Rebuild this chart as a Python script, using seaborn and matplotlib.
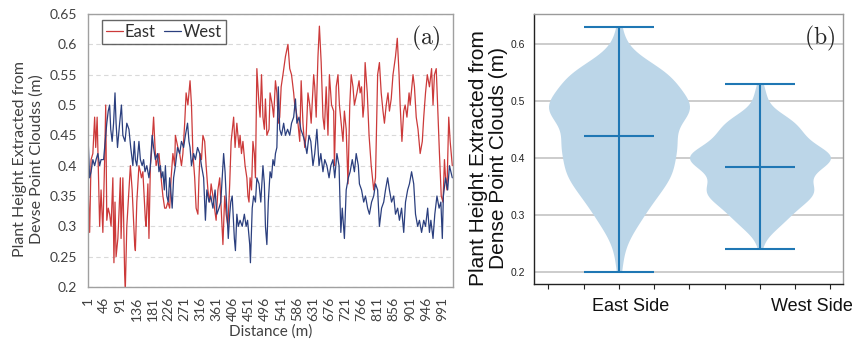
import numpy as np
import pandas as pd
import matplotlib
matplotlib.use("Agg")
import matplotlib.pyplot as plt
import seaborn as sns
from matplotlib import font_manager
from matplotlib.font_manager import FontProperties

# ---------------- data ----------------
east_distance = [1, 5, 9, 14, 19, 22, 26, 33, 37, 42,
                 47, 50, 53, 57, 61, 65, 70, 73, 76, 79,
                 84, 87, 91, 93, 98, 103, 105, 109, 115, 119,
                 124, 131, 133, 137, 143, 147, 150, 154, 161, 163,
                 168, 171, 175, 178, 184, 188, 191, 199, 205, 210,
                 215, 219, 224, 229, 233, 238, 243, 245, 252, 257,
                 262, 266, 271, 275, 280, 286, 290, 294, 299, 303,
                 308, 311, 314, 318, 322, 327, 331, 336, 341, 345,
                 350, 359, 364, 369, 373, 378, 383, 387, 392, 397,
                 401, 408, 412, 417, 423, 426, 430, 434, 440, 445,
                 448, 451, 454, 458, 462, 466, 469, 473, 479, 482,
                 486, 490, 494, 497, 501, 507, 510, 516, 520, 525,
                 529, 533, 537, 541, 546, 553, 560, 565, 570, 576,
                 579, 583, 588, 593, 597, 602, 607, 611, 616, 621,
                 625, 632, 635, 639, 644, 648, 653, 658, 662, 667,
                 672, 676, 682, 688, 690, 693, 695, 700, 704, 709,
                 714, 718, 723, 728, 730, 733, 737, 742, 746, 753,
                 759, 762, 766, 770, 773, 776, 782, 787, 793, 800,
                 805, 811, 816, 821, 826, 830, 835, 840, 844, 849,
                 854, 861, 866, 871, 874, 879, 884, 888, 893, 899,
                 902, 910, 914, 919, 924, 930, 936, 940, 945, 950,
                 956, 962, 966, 970, 975, 980, 984, 989, 994, 998,
                 1001, 1005, 1010, 1014, 1020]
east_height = [0.36, 0.29, 0.41, 0.42, 0.48, 0.43, 0.48, 0.30, 0.36, 0.29,
               0.41, 0.50, 0.31, 0.33, 0.32, 0.30, 0.38, 0.24, 0.34, 0.25,
               0.28, 0.32, 0.38, 0.28, 0.38, 0.22, 0.20, 0.30, 0.36, 0.40,
               0.36, 0.27, 0.26, 0.34, 0.40, 0.39, 0.38, 0.39, 0.31, 0.30,
               0.37, 0.28, 0.40, 0.42, 0.48, 0.43, 0.40, 0.42, 0.38, 0.35,
               0.33, 0.33, 0.34, 0.33, 0.38, 0.42, 0.40, 0.45, 0.43, 0.42,
               0.40, 0.42, 0.47, 0.52, 0.50, 0.54, 0.50, 0.42, 0.38, 0.33,
               0.32, 0.38, 0.42, 0.41, 0.45, 0.44, 0.40, 0.36, 0.34, 0.37,
               0.35, 0.31, 0.36, 0.38, 0.33, 0.27, 0.35, 0.32, 0.30, 0.37,
               0.44, 0.48, 0.43, 0.47, 0.43, 0.45, 0.42, 0.44, 0.40, 0.38,
               0.35, 0.34, 0.38, 0.36, 0.44, 0.42, 0.38, 0.56, 0.50, 0.48,
               0.55, 0.48, 0.46, 0.51, 0.45, 0.46, 0.52, 0.50, 0.48, 0.54,
               0.52, 0.47, 0.48, 0.53, 0.55, 0.58, 0.60, 0.56, 0.55, 0.52,
               0.50, 0.49, 0.47, 0.44, 0.54, 0.47, 0.43, 0.45, 0.52, 0.50,
               0.47, 0.55, 0.53, 0.48, 0.58, 0.63, 0.57, 0.48, 0.46, 0.53,
               0.45, 0.55, 0.50, 0.49, 0.40, 0.47, 0.53, 0.55, 0.50, 0.47,
               0.44, 0.49, 0.46, 0.37, 0.42, 0.50, 0.55, 0.53, 0.50, 0.52,
               0.54, 0.52, 0.53, 0.48, 0.50, 0.57, 0.52, 0.45, 0.40, 0.36,
               0.38, 0.55, 0.57, 0.52, 0.49, 0.47, 0.50, 0.52, 0.49, 0.51,
               0.55, 0.58, 0.61, 0.55, 0.50, 0.44, 0.49, 0.50, 0.48, 0.52,
               0.50, 0.55, 0.53, 0.48, 0.46, 0.42, 0.44, 0.48, 0.52, 0.55,
               0.53, 0.56, 0.50, 0.55, 0.56, 0.48, 0.42, 0.35, 0.34, 0.41,
               0.38, 0.36, 0.48, 0.44, 0.40]

west_distance = [1, 5, 9, 14, 19, 23, 28, 33, 37, 44,
                 50, 53, 57, 61, 64, 68, 72, 76, 79, 83,
                 89, 94, 98, 104, 109, 115, 120, 126, 130, 133,
                 137, 143, 147, 152, 156, 160, 165, 171, 175, 180,
                 184, 189, 195, 199, 203, 206, 210, 214, 217, 221,
                 225, 229, 232, 236, 240, 245, 251, 257, 262, 268,
                 273, 279, 283, 286, 290, 296, 301, 307, 313, 318,
                 324, 329, 333, 339, 344, 350, 356, 361, 367, 372,
                 376, 380, 384, 387, 393, 397, 400, 404, 410, 413,
                 417, 421, 426, 432, 438, 443, 447, 453, 455, 460,
                 464, 469, 473, 479, 484, 490, 494, 497, 501, 505,
                 510, 514, 518, 522, 525, 529, 533, 537, 542, 548,
                 553, 559, 565, 570, 576, 581, 585, 591, 596, 602,
                 607, 613, 619, 624, 630, 635, 641, 647, 652, 658,
                 663, 669, 675, 680, 686, 691, 697, 703, 708, 712,
                 718, 723, 729, 734, 740, 746, 751, 757, 760, 766,
                 772, 777, 783, 788, 794, 800, 805, 811, 816, 822,
                 828, 833, 839, 844, 850, 856, 861, 867, 872, 878,
                 884, 889, 895, 900, 906, 912, 917, 923, 928, 934,
                 940, 945, 951, 956, 960, 966, 971, 977, 983, 988,
                 992, 995, 1001, 1007, 1012, 1020]
west_height = [0.44, 0.38, 0.39, 0.41, 0.40, 0.41, 0.42, 0.40, 0.41, 0.41,
               0.45, 0.47, 0.49, 0.50, 0.46, 0.44, 0.47, 0.52, 0.47, 0.43,
               0.47, 0.50, 0.45, 0.44, 0.47, 0.46, 0.43, 0.40, 0.44, 0.41,
               0.40, 0.44, 0.41, 0.40, 0.41, 0.39, 0.40, 0.38, 0.40, 0.45,
               0.43, 0.41, 0.42, 0.39, 0.40, 0.38, 0.39, 0.36, 0.40, 0.35,
               0.34, 0.38, 0.36, 0.33, 0.38, 0.40, 0.43, 0.42, 0.44, 0.43,
               0.45, 0.47, 0.44, 0.43, 0.40, 0.42, 0.41, 0.43, 0.42, 0.40,
               0.38, 0.31, 0.36, 0.34, 0.35, 0.33, 0.36, 0.32, 0.33, 0.34,
               0.38, 0.42, 0.39, 0.35, 0.28, 0.32, 0.34, 0.35, 0.28, 0.26,
               0.32, 0.30, 0.31, 0.30, 0.32, 0.30, 0.31, 0.27, 0.24, 0.33,
               0.35, 0.34, 0.38, 0.37, 0.34, 0.40, 0.37, 0.30, 0.27, 0.34,
               0.39, 0.38, 0.41, 0.40, 0.42, 0.43, 0.53, 0.46, 0.45, 0.47,
               0.45, 0.46, 0.45, 0.47, 0.48, 0.51, 0.47, 0.48, 0.46, 0.45,
               0.44, 0.42, 0.45, 0.44, 0.40, 0.42, 0.46, 0.40, 0.42, 0.39,
               0.41, 0.40, 0.38, 0.40, 0.41, 0.38, 0.42, 0.40, 0.29, 0.33,
               0.28, 0.36, 0.38, 0.39, 0.41, 0.39, 0.42, 0.40, 0.37, 0.36,
               0.34, 0.35, 0.33, 0.32, 0.34, 0.35, 0.37, 0.36, 0.30, 0.33,
               0.34, 0.36, 0.38, 0.36, 0.34, 0.35, 0.32, 0.33, 0.31, 0.33,
               0.29, 0.34, 0.36, 0.37, 0.39, 0.37, 0.32, 0.30, 0.31, 0.29,
               0.31, 0.30, 0.33, 0.29, 0.31, 0.28, 0.32, 0.35, 0.33, 0.34,
               0.28, 0.35, 0.38, 0.36, 0.40, 0.38]

series_names = ["East", "West"]
violin_labels = ["East Side", "West Side"]
line_x_ticks = [1, 46, 91, 136, 181, 226, 271, 316, 361, 406, 451, 496,
                541, 586, 631, 676, 721, 766, 811, 856, 901, 946, 991]
line_y_ticks = [0.2, 0.25, 0.3, 0.35, 0.4, 0.45, 0.5, 0.55, 0.6, 0.65]
line_y_labels = ["0.2", "0.25", "0.3", "0.35", "0.4", "0.45", "0.5",
                 "0.55", "0.6", "0.65"]
violin_y_ticks = [0.2, 0.3, 0.4, 0.5, 0.6]
violin_y_labels = ["0.2", "0.3", "0.4", "0.5", "0.6"]

# ---------------- style ----------------
sns.set_style("white")
plt.rcParams["mathtext.fontset"] = "cm"
plt.rcParams["font.family"] = ["Liberation Sans", "DejaVu Sans"]
available = {f.name for f in font_manager.fontManager.ttflist}
narrow = "Liberation Sans Narrow" if "Liberation Sans Narrow" in available else "Liberation Sans"
xl_font = "Lato" if "Lato" in available else "DejaVu Sans"

RED = "#cc3a3a"
NAVY = "#2b3f7e"
C0 = "#1f77b4"
VIOLIN_FILL = "#bcd6e8"

fig = plt.figure(figsize=(8.53, 3.42), dpi=100)
ax1 = fig.add_axes([0.1032, 0.1608, 0.4279, 0.7982])
ax2 = fig.add_axes([0.6260, 0.1696, 0.3623, 0.7895])

# ---------------- (a) line chart ----------------
df_line = pd.concat([
    pd.DataFrame({"Distance": east_distance, "Height": east_height, "Side": series_names[0]}),
    pd.DataFrame({"Distance": west_distance, "Height": west_height, "Side": series_names[1]}),
], ignore_index=True)

sns.lineplot(data=df_line, x="Distance", y="Height", hue="Side",
             hue_order=series_names, palette={"East": RED, "West": NAVY},
             estimator=None, linewidth=0.9, ax=ax1)

ax1.set_xlim(0.5, 1022)
ax1.set_ylim(0.2, 0.65)
ax1.set_yticks(line_y_ticks, labels=line_y_labels)
ax1.set_xticks(line_x_ticks, labels=[str(v) for v in line_x_ticks])
for lab in ax1.get_xticklabels():
    lab.set_rotation(90)
ax1.tick_params(axis="both", length=0, colors="#404040")
ax1.tick_params(axis="y", pad=8)
ax1.tick_params(axis="x", pad=7)
for lab in ax1.get_xticklabels() + ax1.get_yticklabels():
    lab.set_fontfamily(xl_font)
    lab.set_fontsize(10)
ax1.yaxis.grid(True, linestyle=(0, (4, 3)), color="#d9d9d9", linewidth=0.8)
ax1.xaxis.grid(False)
for sp in ax1.spines.values():
    sp.set_color("#a0a0a0")
    sp.set_linewidth(1.0)

ax1.set_xlabel("Distance (m)", fontfamily=xl_font, fontsize=11, color="#404040", labelpad=2)
ax1.set_ylabel("Plant Height Extracted from\nDevse Point Cloudss (m)",
               fontfamily=xl_font, fontsize=11.4, color="#404040", linespacing=1.15)
ax1.yaxis.set_label_coords(-0.122, 0.47)

handles, labels = ax1.get_legend_handles_labels()
leg = ax1.legend(handles, labels, ncol=2, loc="upper left",
                 bbox_to_anchor=(0.038, 0.978), borderaxespad=0, frameon=True,
                 fancybox=False, edgecolor="#404040", handlelength=1.0,
                 handletextpad=0.12, columnspacing=0.5, borderpad=0.25,
                 prop=FontProperties(family=xl_font, size=12))
leg.get_frame().set_linewidth(1.0)
for t in leg.get_texts():
    t.set_color("#303030")

ax1.text(0.967, 0.962, r"$\mathrm{(a)}$", transform=ax1.transAxes,
         ha="right", va="top", fontsize=17)

# ---------------- (b) violin chart ----------------
df_violin = pd.DataFrame({
    "Side": [violin_labels[0]] * len(east_height) + [violin_labels[1]] * len(west_height),
    "Height": east_height + west_height,
})
ax2.set_axisbelow(True)
sns.violinplot(data=df_violin, x="Side", y="Height", order=violin_labels,
               inner=None, cut=0, density_norm="width", width=1.0,
               color=VIOLIN_FILL, saturation=1, linewidth=0, bw_adjust=0.8,
               ax=ax2)

for i, vals in enumerate([east_height, west_height]):
    lo, hi, mu = min(vals), max(vals), float(np.mean(vals))
    ax2.vlines(i, lo, hi, color=C0, linewidth=1.5, zorder=3)
    ax2.hlines([lo, hi, mu], i - 0.25, i + 0.25, color=C0, linewidth=1.5, zorder=3)

ax2.set_ylim(0.179, 0.652)
ax2.set_xlim(-0.603, 1.589)
ax2.set_yticks(violin_y_ticks, labels=violin_y_labels)
ax2.yaxis.grid(True, color="#c4c4c4", linewidth=1.2)
ax2.xaxis.grid(False)
ax2.set_xticks([0.085, 1.365], labels=violin_labels)
ax2.set_xticks([-0.5, -0.25, 0, 0.25, 0.5, 0.75, 1.0, 1.25, 1.5], minor=True)
ax2.tick_params(axis="x", which="major", length=0, pad=10, labelsize=13, labelcolor="#111111")
ax2.tick_params(axis="x", which="minor", length=3.8, width=0.8, color="#222222", bottom=True)
ax2.tick_params(axis="y", length=0, pad=6.5, labelsize=7.5, labelcolor="#222222")
for lab in ax2.get_yticklabels():
    lab.set_fontfamily(narrow)
ax2.set_xlabel("")
ax2.set_ylabel("Plant Height Extracted from\nDense Point Clouds (m)", fontsize=15,
               color="#111111", linespacing=1.1)
ax2.yaxis.set_label_coords(-0.084, 0.467)
ax2.spines["left"].set_color("#222222")
ax2.spines["bottom"].set_color("#222222")
ax2.spines["top"].set_color("#9a9a9a")
ax2.spines["right"].set_color("#9a9a9a")
for sp in ax2.spines.values():
    sp.set_linewidth(1.0)

ax2.text(0.974, 0.962, r"$\mathrm{(b)}$", transform=ax2.transAxes,
         ha="right", va="top", fontsize=17)

fig.savefig("out.png", dpi=100)
